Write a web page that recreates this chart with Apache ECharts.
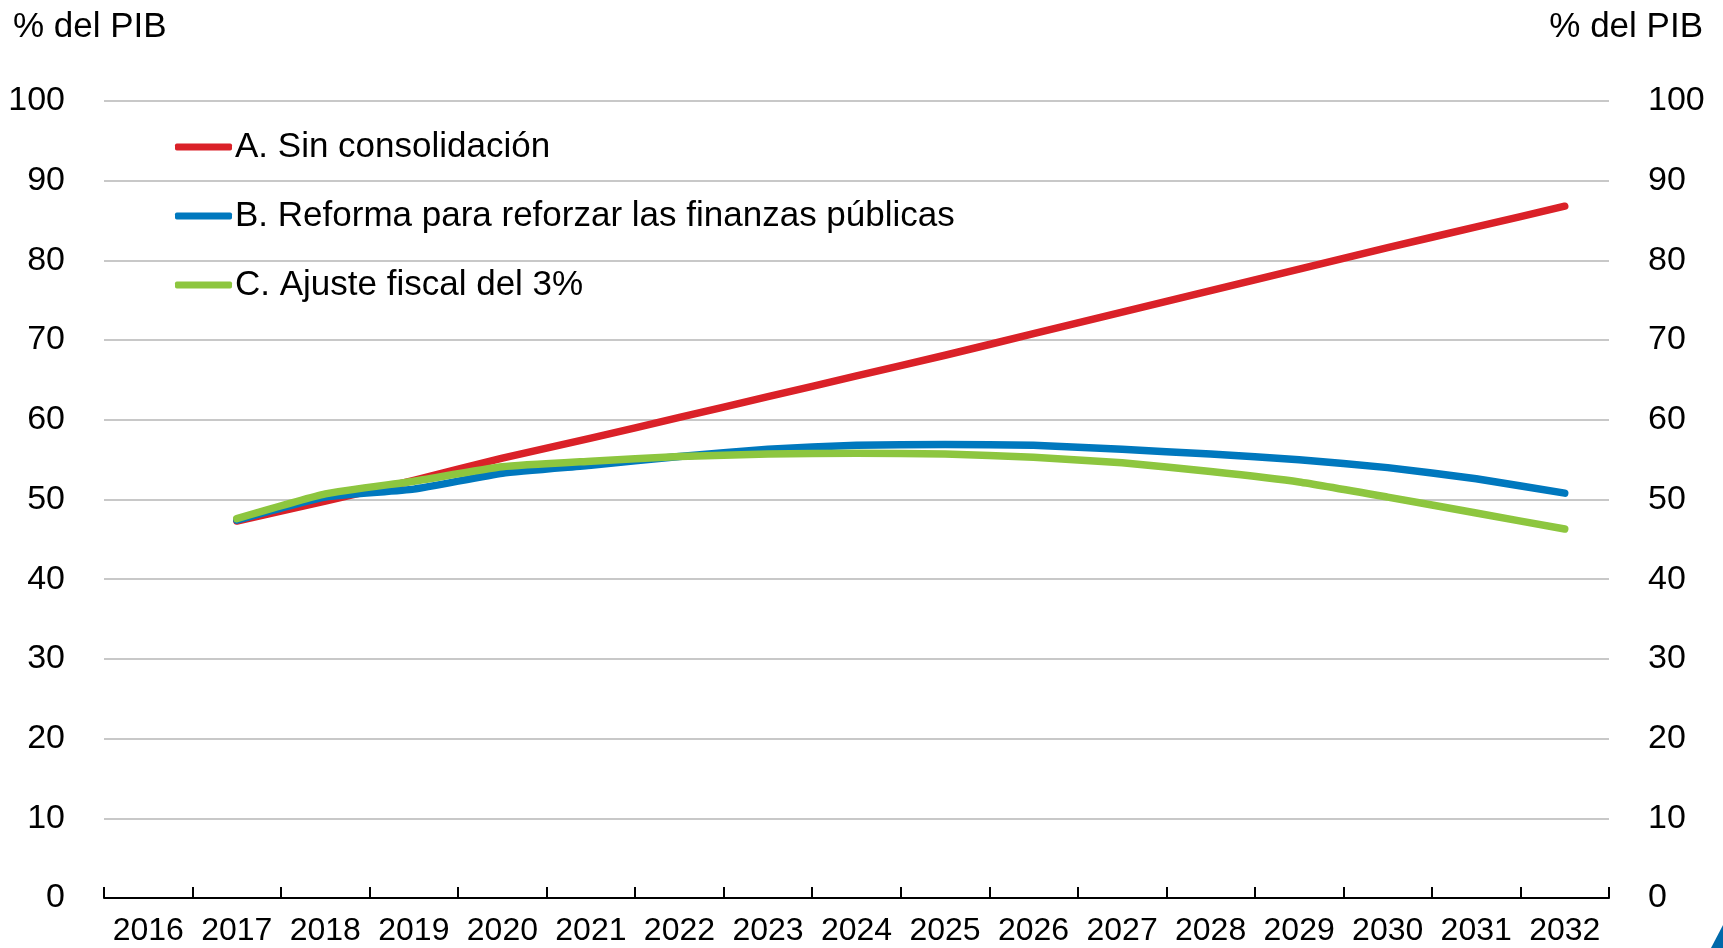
<!DOCTYPE html>
<html>
<head>
<meta charset="utf-8">
<script src="https://cdn.jsdelivr.net/npm/echarts@6/dist/echarts.min.js"></script>
<style>
html,body{margin:0;padding:0;background:#fff;}
#chart{width:1723px;height:948px;}
</style>
</head>
<body>
<div id="chart"></div>
<script>
const categories = ['2016','2017','2018','2019','2020','2021','2022','2023','2024','2025','2026','2027','2028','2029','2030','2031','2032'];
const seriesNames = ['A. Sin consolidación','B. Reforma para reforzar las finanzas públicas','C. Ajuste fiscal del 3%'];
const sinConsolidacion = [null, 47.3, 49.8, 52.4, 55.2, 57.7, 60.3, 62.9, 65.5, 68.1, 70.8, 73.5, 76.2, 78.9, 81.6, 84.2, 86.8];
const reforma = [null, 47.4, 50.3, 51.3, 53.3, 54.3, 55.4, 56.3, 56.8, 56.9, 56.8, 56.3, 55.7, 55.0, 54.0, 52.6, 50.8];
const ajuste = [null, 47.6, 50.7, 52.3, 54.1, 54.8, 55.4, 55.7, 55.8, 55.7, 55.3, 54.6, 53.5, 52.2, 50.3, 48.3, 46.3];
const yTicks = {min: 0, max: 100, interval: 10};
const unitLabel = '% del PIB';

const FONT = '"Liberation Sans", Arial, sans-serif';
const colors = ['#DA2128', '#0078BE', '#8DC63F'];
const chart = echarts.init(document.getElementById('chart'), null, {renderer: 'canvas'});

function yAxis(pos) {
  return {
    type: 'value', position: pos, min: yTicks.min, max: yTicks.max, interval: yTicks.interval,
    axisLine: {show: false}, axisTick: {show: false},
    axisLabel: {color: '#000', fontFamily: FONT, fontSize: 34, margin: 39},
    splitLine: {show: pos === 'left', lineStyle: {color: '#c8c8c8', width: 2}}
  };
}
function line(name, data, color) {
  return {
    name: name, type: 'line', data: data, symbol: 'none', smooth: 0.15,
    connectNulls: false,
    lineStyle: {color: color, width: 7.5, cap: 'round', join: 'round'},
    itemStyle: {color: color},
    emphasis: {disabled: true}, animation: false
  };
}

chart.setOption({
  animation: false,
  grid: {left: 104, right: 114, top: 101, bottom: 50, containLabel: false},
  legend: {
    orient: 'vertical', left: 175, top: 127, padding: 0, itemWidth: 57, itemHeight: 7, itemGap: 29,
    icon: 'roundRect',
    textStyle: {color: '#000', fontFamily: FONT, fontSize: 35, lineHeight: 40, padding: [0,0,0,-2]},
    data: seriesNames.map(function(n, i){ return {name: n, itemStyle: {color: colors[i]}}; }),
    selectedMode: false
  },
  xAxis: {
    type: 'category', data: categories, boundaryGap: true,
    axisLine: {lineStyle: {color: '#000', width: 2}},
    axisTick: {show: true, inside: true, length: 11, lineStyle: {color: '#000', width: 2}},
    axisLabel: {color: '#000', fontFamily: FONT, fontSize: 32, margin: 17, interval: 0},
    splitLine: {show: false}
  },
  yAxis: [yAxis('left'), yAxis('right')],
  series: [
    line(seriesNames[0], sinConsolidacion, colors[0]),
    line(seriesNames[1], reforma, colors[1]),
    line(seriesNames[2], ajuste, colors[2])
  ],
  graphic: [
    {type: 'text', left: 13, top: 10, style: {text: unitLabel, fill: '#000', font: '35px ' + FONT}},
    {type: 'text', right: 20, top: 10, style: {text: unitLabel, fill: '#000', font: '35px ' + FONT}},
    {type: 'polygon', shape: {points: [[1711,948],[1723,925],[1723,948]]}, style: {fill: '#0069AA'}}
  ]
});
</script>
</body>
</html>
